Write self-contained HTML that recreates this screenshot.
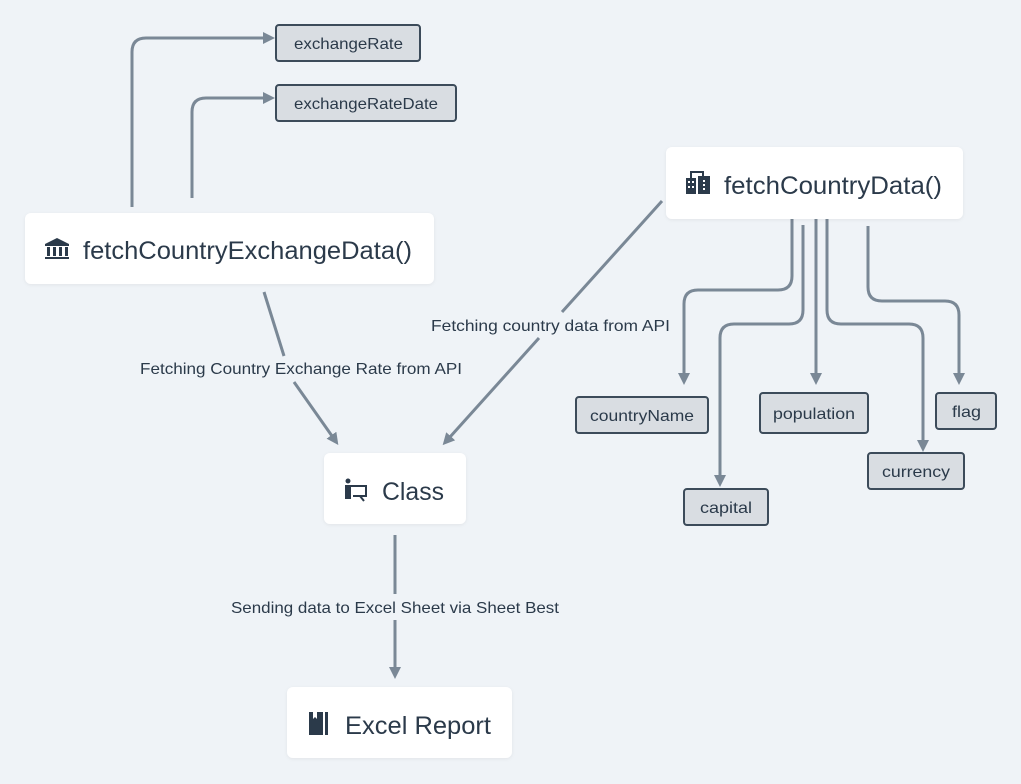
<!DOCTYPE html>
<html><head><meta charset="utf-8"><style>
html,body{margin:0;padding:0;background:#eff3f7;}
svg{display:block}
text{font-family:"Liberation Sans",sans-serif;fill:#2b3a4a}
</style></head><body>
<svg width="1021" height="784" viewBox="0 0 1021 784" xmlns="http://www.w3.org/2000/svg">
<defs>
<marker id="ah" markerWidth="12" markerHeight="12" refX="1" refY="6" orient="auto" markerUnits="userSpaceOnUse">
<path d="M0,0 L12,6 L0,12 z" fill="#7a8896"/>
</marker>
<filter id="sh" x="-10%" y="-20%" width="120%" height="140%"><feDropShadow dx="0" dy="1" stdDeviation="1.5" flood-color="#000" flood-opacity="0.06"/></filter>
</defs>
<rect width="1021" height="784" fill="#eff3f7"/>
<g fill="none" stroke="#7a8896" stroke-width="3">
<path d="M132,207 V52 Q132,38 146,38 H264" marker-end="url(#ah)"/>
<path d="M192,198 V112 Q192,98 206,98 H264" marker-end="url(#ah)"/>
<path d="M792,219 V276 Q792,290 778,290 H698 Q684,290 684,304 V374" marker-end="url(#ah)"/>
<path d="M803,225 V310 Q803,324 789,324 H734 Q720,324 720,338 V476" marker-end="url(#ah)"/>
<path d="M816,219 V374" marker-end="url(#ah)"/>
<path d="M827,219 V310 Q827,324 841,324 H909 Q923,324 923,338 V441" marker-end="url(#ah)"/>
<path d="M868,226 V287 Q868,301 882,301 H945 Q959,301 959,315 V374" marker-end="url(#ah)"/>
<path d="M264,292 L284,356"/>
<path d="M294,382 L332,436" marker-end="url(#ah)"/>
<path d="M662,201 L562,312"/>
<path d="M539,338 L450,437" marker-end="url(#ah)"/>
<path d="M395,535 V594"/>
<path d="M395,620 V668" marker-end="url(#ah)"/>
</g>
<g font-size="16">
<text x="140" y="374" textLength="322" lengthAdjust="spacingAndGlyphs">Fetching Country Exchange Rate from API</text>
<text x="431" y="331" textLength="239" lengthAdjust="spacingAndGlyphs">Fetching country data from API</text>
<text x="231" y="613" textLength="328" lengthAdjust="spacingAndGlyphs">Sending data to Excel Sheet via Sheet Best</text>
</g>
<g fill="#fff" filter="url(#sh)">
<rect x="25" y="213" width="409" height="71" rx="6"/>
<rect x="666" y="147" width="297" height="72" rx="6"/>
<rect x="324" y="453" width="142" height="71" rx="6"/>
<rect x="287" y="687" width="225" height="71" rx="6"/>
</g>
<g font-size="25">
<text x="83" y="259" textLength="329" lengthAdjust="spacingAndGlyphs">fetchCountryExchangeData()</text>
<text x="724" y="194" textLength="218" lengthAdjust="spacingAndGlyphs">fetchCountryData()</text>
<text x="382" y="500" textLength="62" lengthAdjust="spacingAndGlyphs">Class</text>
<text x="345" y="734" textLength="146" lengthAdjust="spacingAndGlyphs">Excel Report</text>
</g>
<g fill="#2b3a4a">
<path d="M45,244 L57,238 L69,244 V246 H45 Z"/><rect x="47" y="247" width="3" height="9"/><rect x="53" y="247" width="3" height="9"/><rect x="59" y="247" width="3" height="9"/><rect x="65" y="247" width="3" height="9"/><rect x="45" y="257" width="24" height="2"/>
<rect x="686" y="178" width="10" height="16"/><rect x="698" y="176" width="12" height="18"/><path d="M691,178 V172 H703 V176" fill="none" stroke="#2b3a4a" stroke-width="2"/>
<circle cx="348" cy="481" r="2.5"/><rect x="345" y="485" width="6" height="14"/><path d="M351,486 H366 V496 H353" fill="none" stroke="#2b3a4a" stroke-width="2"/><path d="M360,496 L364,501" stroke="#2b3a4a" stroke-width="2"/>
<path d="M309,712 H323 V735 H309 Z"/><rect x="325" y="712" width="3" height="23"/>
</g>
<g fill="#fff">
<rect x="688" y="181" width="2" height="2"/><rect x="688" y="186" width="2" height="2"/><rect x="692" y="181" width="2" height="2"/><rect x="692" y="186" width="2" height="2"/>
<rect x="703" y="180" width="2" height="2"/><rect x="703" y="184" width="2" height="2"/><rect x="703" y="188" width="2" height="2"/>
<path d="M313,712 V719 L315,717 L317,719 V712 Z"/>
</g>
<g fill="#d9dde2" stroke="#3c4b5a" stroke-width="2">
<rect x="276" y="25" width="144" height="36" rx="3"/>
<rect x="276" y="85" width="180" height="36" rx="3"/>
<rect x="576" y="397" width="132" height="36" rx="3"/>
<rect x="760" y="393" width="108" height="40" rx="3"/>
<rect x="936" y="393" width="60" height="36" rx="3"/>
<rect x="868" y="453" width="96" height="36" rx="3"/>
<rect x="684" y="489" width="84" height="36" rx="3"/>
</g>
<g font-size="16">
<text x="294" y="49" textLength="109" lengthAdjust="spacingAndGlyphs">exchangeRate</text>
<text x="294" y="109" textLength="144" lengthAdjust="spacingAndGlyphs">exchangeRateDate</text>
<text x="590" y="421" textLength="104" lengthAdjust="spacingAndGlyphs">countryName</text>
<text x="773" y="419" textLength="82" lengthAdjust="spacingAndGlyphs">population</text>
<text x="952" y="417" textLength="29" lengthAdjust="spacingAndGlyphs">flag</text>
<text x="882" y="477" textLength="68" lengthAdjust="spacingAndGlyphs">currency</text>
<text x="700" y="513" textLength="52" lengthAdjust="spacingAndGlyphs">capital</text>
</g>
</svg>
</body></html>
